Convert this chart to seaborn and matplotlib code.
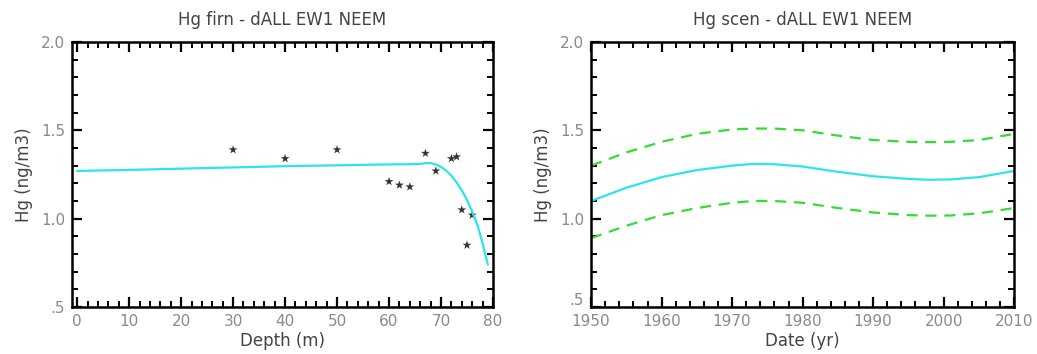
import numpy as np
import pandas as pd
import seaborn as sns
import matplotlib.pyplot as plt
import matplotlib.transforms as mtransforms
from matplotlib.ticker import MultipleLocator, FuncFormatter

# firn profile (depth in m)
model_depth = [0, 10, 20, 30, 40, 50, 60, 64, 66, 67, 68, 69, 70, 71, 72, 73, 74, 75, 76, 77, 78, 79]
model_hg = [1.27, 1.276, 1.283, 1.29, 1.297, 1.302, 1.307, 1.308, 1.31, 1.314, 1.314, 1.307, 1.293, 1.272, 1.243, 1.205, 1.16, 1.105, 1.04, 0.965, 0.86, 0.74]
obs_depth = [30, 40, 50, 60, 62, 64, 67, 69, 72, 73, 74, 75, 76]
obs_hg = [1.39, 1.34, 1.39, 1.21, 1.19, 1.18, 1.37, 1.27, 1.34, 1.35, 1.05, 0.85, 1.02]

# atmospheric scenario
years = [1950, 1955, 1960, 1965, 1970, 1973, 1976, 1980, 1985, 1990, 1995, 1998, 2001, 2005, 2010]
scen_mid = [1.10, 1.175, 1.235, 1.275, 1.30, 1.31, 1.308, 1.295, 1.265, 1.24, 1.225, 1.22, 1.222, 1.235, 1.27]
scen_hi = [1.30, 1.375, 1.435, 1.48, 1.505, 1.51, 1.51, 1.50, 1.47, 1.445, 1.435, 1.433, 1.435, 1.445, 1.48]
scen_lo = [0.89, 0.96, 1.02, 1.06, 1.09, 1.10, 1.10, 1.09, 1.06, 1.035, 1.02, 1.017, 1.018, 1.03, 1.06]

sns.set_style("ticks")
plt.rcParams['font.family'] = ['DejaVu Sans']

CYAN = '#2fe3ea'
GREEN = '#33dd33'
LABEL_C = '#444444'
TICK_C = '#8a8a8a'

fig = plt.figure(figsize=(10.37, 3.54), dpi=100)
ax1 = fig.add_axes([0.0694, 0.1328, 0.406, 0.7486])
ax2 = fig.add_axes([0.570, 0.1328, 0.408, 0.7486])

firn = pd.DataFrame({'depth': model_depth, 'hg': model_hg})
obs = pd.DataFrame({'depth': obs_depth, 'hg': obs_hg})
sns.lineplot(data=firn, x='depth', y='hg', ax=ax1, color=CYAN, lw=1.6, sort=False)
sns.scatterplot(data=obs, x='depth', y='hg', ax=ax1, marker='*', s=45,
                color='#333333', edgecolor='none')

scen = pd.DataFrame({'year': years, 'mid': scen_mid, 'hi': scen_hi, 'lo': scen_lo})
sns.lineplot(data=scen, x='year', y='mid', ax=ax2, color=CYAN, lw=1.6)
sns.lineplot(data=scen, x='year', y='hi', ax=ax2, color=GREEN, lw=1.6, dashes=False,
             linestyle=(0, (5, 3.5)))
sns.lineplot(data=scen, x='year', y='lo', ax=ax2, color=GREEN, lw=1.6, dashes=False,
             linestyle=(0, (5, 3.5)))

def yfmt(v, pos):
    s = f"{v:.1f}"
    return s[1:] if s.startswith("0.") else s

for ax, xl, title in [(ax1, 'Depth (m)', 'Hg firn - dALL EW1 NEEM'),
                      (ax2, 'Date (yr)', 'Hg scen - dALL EW1 NEEM')]:
    ax.set_ylim(0.5, 2.0)
    ax.yaxis.set_major_locator(MultipleLocator(0.5))
    ax.yaxis.set_minor_locator(MultipleLocator(0.1))
    ax.yaxis.set_major_formatter(FuncFormatter(yfmt))
    ax.xaxis.set_major_locator(MultipleLocator(10))
    ax.xaxis.set_minor_locator(MultipleLocator(2))
    ax.tick_params(which='both', direction='in', top=True, right=True, color='black',
                   labelcolor=TICK_C, labelsize=11)
    ax.tick_params(which='major', length=7, width=1.6, pad=5)
    ax.tick_params(which='minor', length=4, width=1.4)
    for sp in ax.spines.values():
        sp.set_linewidth(1.8)
        sp.set_color('black')
    ax.set_xlabel(xl, fontsize=12, color=LABEL_C, labelpad=2)
    ax.set_ylabel('Hg (ng/m3)', fontsize=12, color=LABEL_C, labelpad=6)
    ax.set_title(title, fontsize=12, color=LABEL_C, pad=12)

ax1.set_xlim(-1, 80)
ax2.set_xlim(1950, 2010)

# lift the ".5" label of the right panel a little so it clears "1950"
fig.canvas.draw()
for tick in ax2.yaxis.get_major_ticks():
    if abs(tick.get_loc() - 0.5) < 1e-6:
        lab = tick.label1
        lab.set_transform(lab.get_transform() +
                          mtransforms.ScaledTranslation(0, 6 / 72, fig.dpi_scale_trans))

fig.savefig('out.png', dpi=100)
